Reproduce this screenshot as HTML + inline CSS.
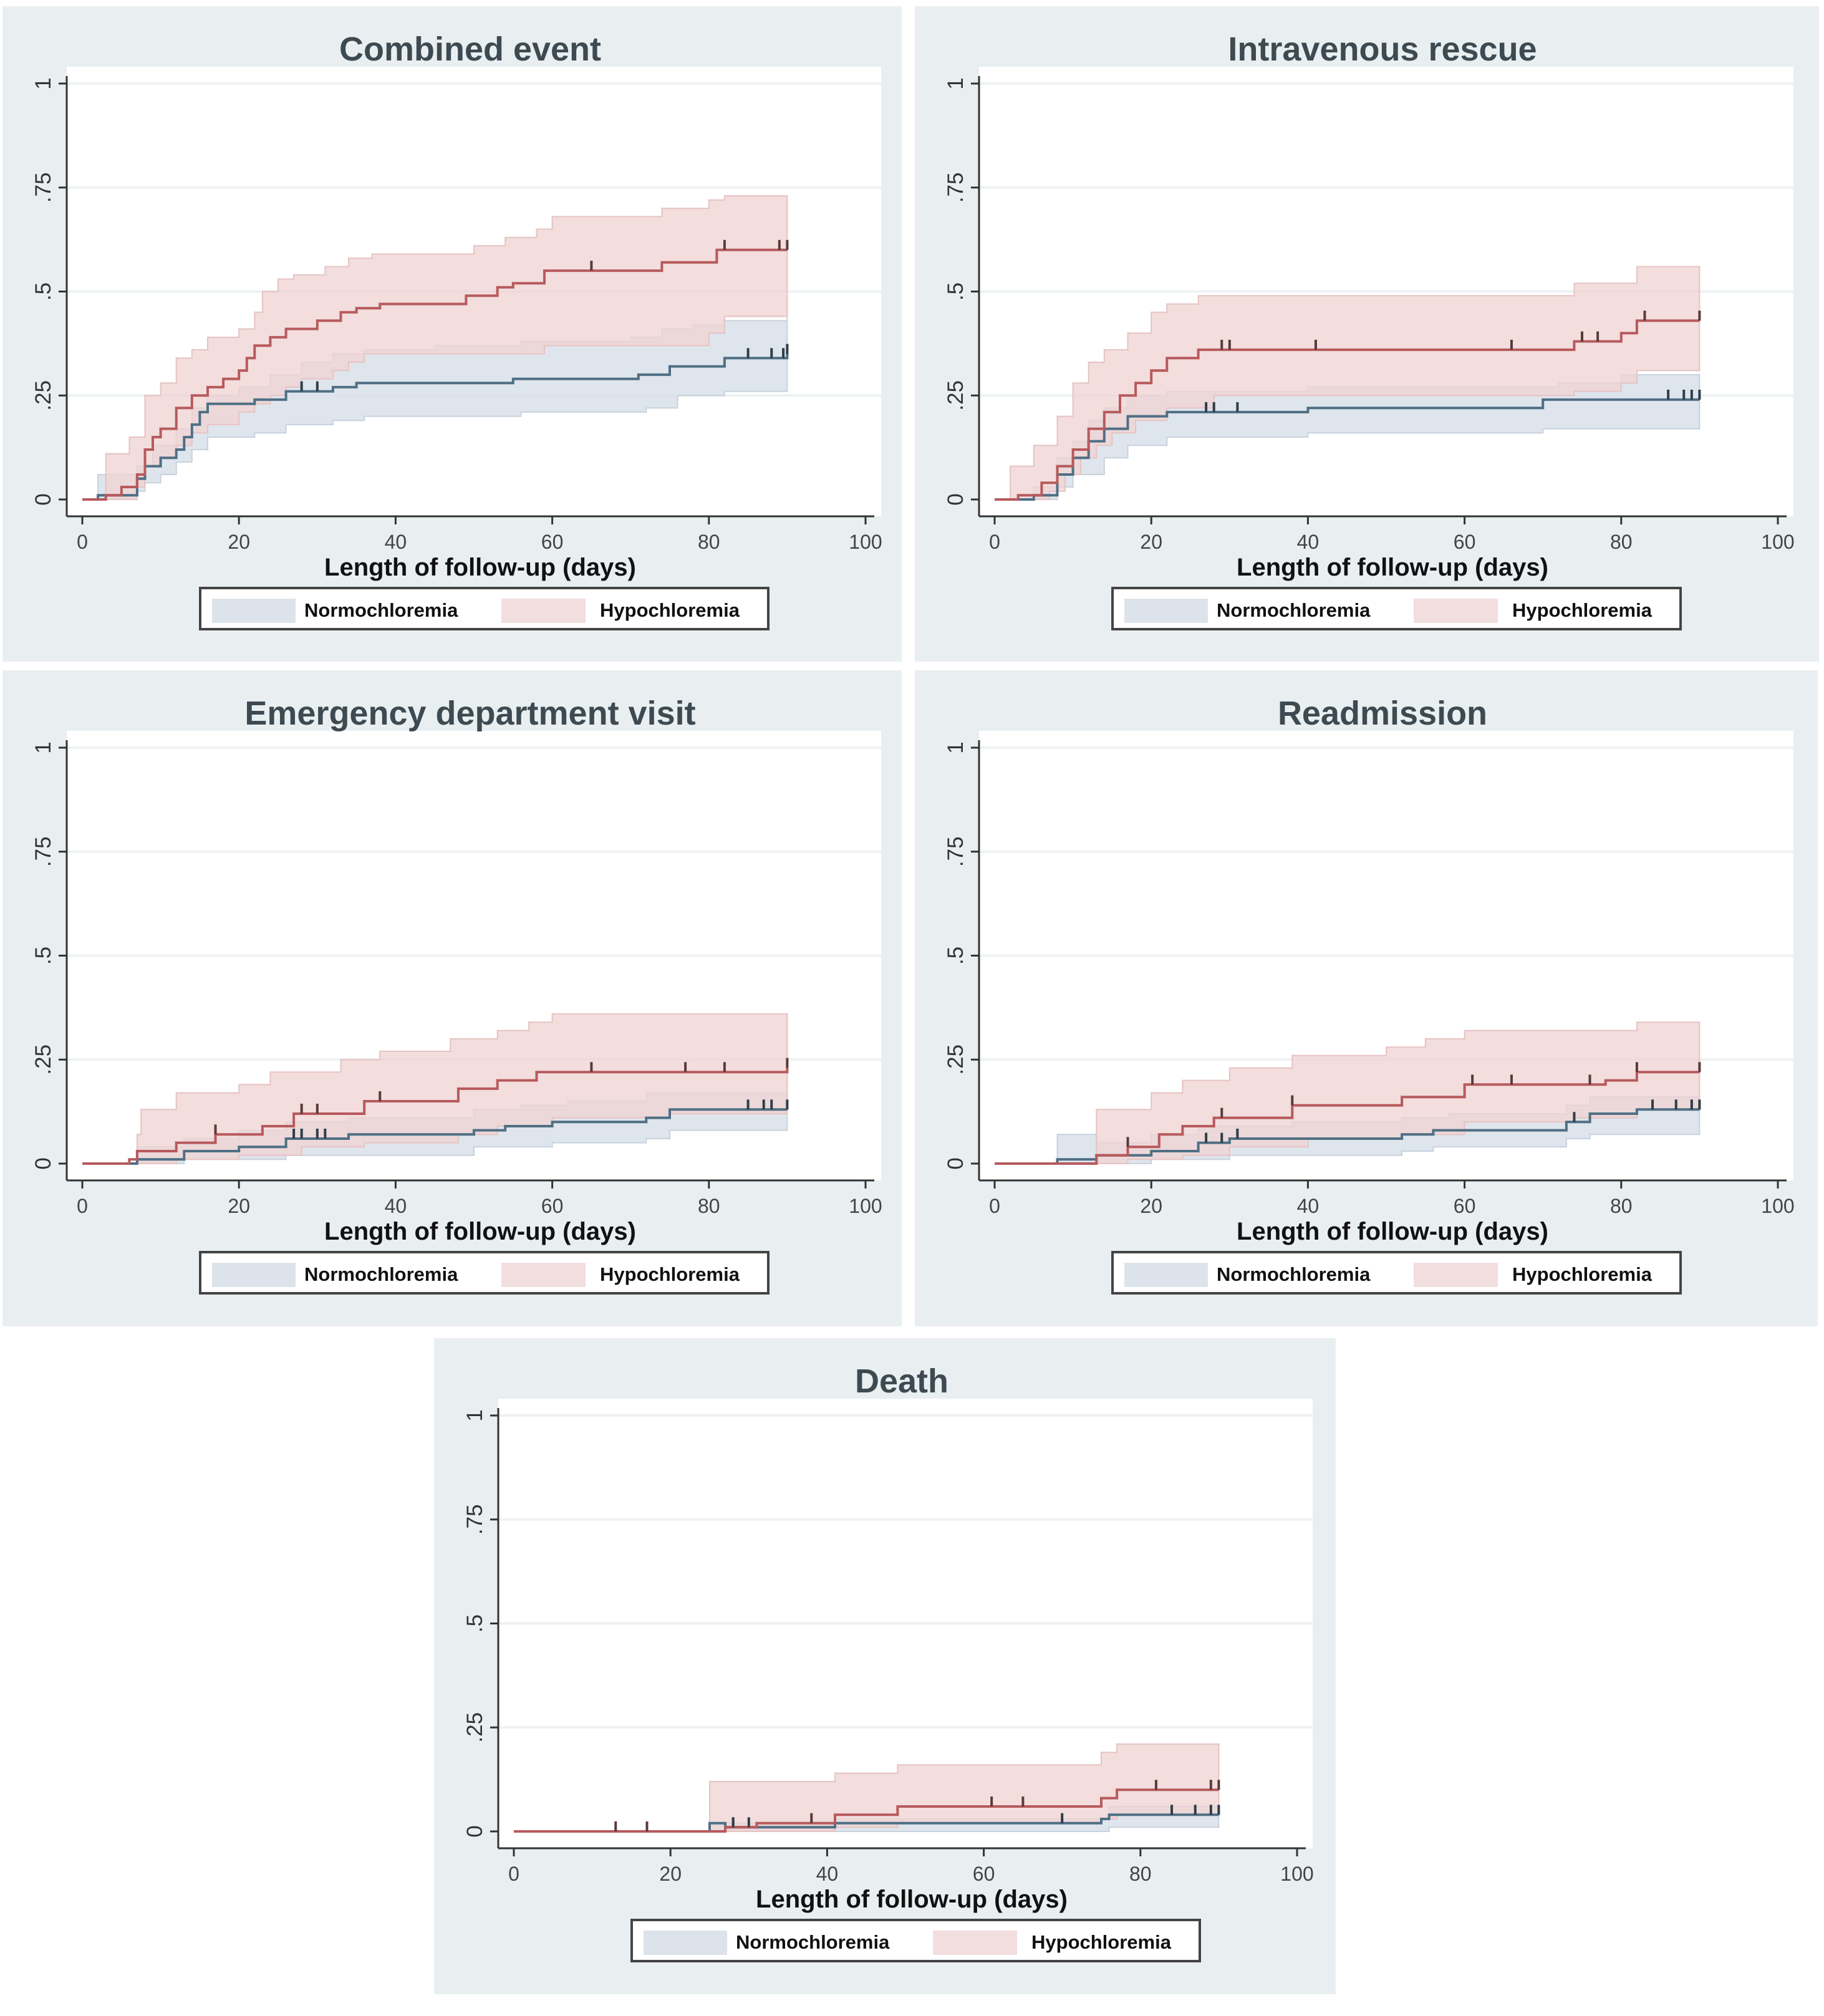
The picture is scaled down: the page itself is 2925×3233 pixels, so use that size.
<!DOCTYPE html>
<html><head><meta charset="utf-8"><style>
html,body{margin:0;padding:0;background:#fff}
svg{display:block}
text{font-family:"Liberation Sans",sans-serif}
</style></head><body>
<svg id="fig" width="2925" height="3233" viewBox="0 0 2925 3233" xmlns="http://www.w3.org/2000/svg"></svg>
<script>
// ---- data (days, cumulative incidence) ----
const panelTitles = ["Combined event","Intravenous rescue","Emergency department visit","Readmission","Death"];
// Combined event
const ceHypo   = [[0,0],[3,.01],[5,.03],[7,.06],[8,.12],[9,.15],[10,.17],[12,.22],[14,.25],[16,.27],[18,.29],[20,.31],[21,.34],[22,.37],[24,.39],[26,.41],[30,.43],[33,.45],[35,.46],[38,.47],[49,.49],[53,.51],[55,.52],[59,.55],[74,.57],[81,.6],[90,.6]];
const ceHypoU  = [[0,0],[3,.11],[6,.15],[8,.25],[10,.28],[12,.34],[14,.36],[16,.39],[20,.41],[22,.45],[23,.5],[25,.53],[27,.54],[31,.56],[34,.58],[37,.59],[50,.61],[54,.63],[58,.65],[60,.68],[74,.7],[80,.72],[82,.73],[90,.73]];
const ceHypoL  = [[0,0],[7,.03],[8,.08],[10,.1],[12,.13],[14,.16],[16,.18],[20,.21],[22,.23],[24,.25],[26,.27],[28,.29],[32,.31],[34,.33],[36,.35],[59,.37],[80,.4],[82,.44],[90,.46]];
const ceNorm   = [[0,0],[2,.01],[7,.05],[8,.08],[10,.1],[12,.12],[13,.15],[14,.18],[15,.21],[16,.23],[22,.24],[26,.26],[32,.27],[35,.28],[55,.29],[71,.3],[75,.32],[82,.34],[90,.35]];
const ceNormU  = [[0,0],[2,.06],[7,.08],[9,.13],[12,.17],[14,.22],[16,.25],[20,.27],[24,.3],[28,.33],[32,.35],[36,.36],[45,.37],[56,.38],[70,.39],[74,.41],[78,.42],[82,.43],[90,.44]];
const ceNormL  = [[0,0],[7,.02],[8,.04],[10,.06],[12,.09],[14,.12],[16,.15],[22,.16],[26,.18],[32,.19],[36,.2],[56,.21],[72,.22],[76,.25],[82,.26],[90,.26]];
const ceHypoCens = [65,82,89,90];
const ceNormCens = [28,30,85,88,89.5,90];
// Intravenous rescue
const ivHypo   = [[0,0],[3,.01],[6,.04],[8,.08],[10,.12],[12,.17],[14,.21],[16,.25],[18,.28],[20,.31],[22,.34],[26,.36],[74,.38],[80,.4],[82,.43],[90,.43]];
const ivHypoU  = [[0,0],[2,.08],[5,.13],[8,.2],[10,.28],[12,.33],[14,.36],[17,.4],[20,.45],[22,.47],[26,.49],[74,.52],[82,.56],[90,.56]];
const ivHypoL  = [[0,0],[7,.02],[9,.06],[11,.1],[13,.13],[15,.16],[18,.19],[22,.22],[28,.25],[74,.26],[80,.28],[82,.31],[90,.31]];
const ivNorm   = [[0,0],[5,.01],[8,.06],[10,.1],[12,.14],[14,.17],[17,.2],[22,.21],[40,.22],[70,.24],[90,.24]];
const ivNormU  = [[0,0],[5,.03],[8,.1],[10,.14],[12,.19],[14,.22],[17,.25],[22,.26],[40,.27],[72,.28],[80,.3],[90,.3]];
const ivNormL  = [[0,0],[8,.03],[10,.06],[14,.1],[17,.13],[22,.15],[40,.16],[70,.17],[90,.17]];
const ivHypoCens = [29,30,41,66,75,77,83,90];
const ivNormCens = [27,28,31,86,88,89,90];
// Emergency department visit
const edHypo   = [[0,0],[6,.01],[7,.03],[12,.05],[17,.07],[23,.09],[27,.12],[36,.15],[48,.18],[53,.2],[58,.22],[90,.23]];
const edHypoU  = [[0,0],[7,.07],[7.5,.13],[12,.17],[20,.19],[24,.22],[33,.25],[38,.27],[47,.3],[53,.32],[57,.34],[60,.36],[90,.36]];
const edHypoL  = [[0,0],[12,.01],[20,.02],[28,.04],[36,.05],[48,.07],[53,.09],[60,.11],[75,.12],[90,.13]];
const edNorm   = [[0,0],[7,.01],[13,.03],[20,.04],[26,.06],[34,.07],[50,.08],[54,.09],[60,.1],[72,.11],[75,.13],[90,.13]];
const edNormU  = [[0,0],[7,.04],[13,.06],[20,.08],[26,.1],[34,.11],[50,.13],[56,.14],[62,.15],[72,.17],[90,.17]];
const edNormL  = [[0,0],[13,.01],[26,.02],[50,.04],[60,.05],[72,.06],[75,.08],[90,.08]];
const edHypoCens = [17,28,30,38,65,77,82,90];
const edNormCens = [27,28,30,31,85,87,88,90];
// Readmission
const raHypo   = [[0,0],[13,.02],[17,.04],[21,.07],[24,.09],[28,.11],[38,.14],[52,.16],[60,.19],[78,.2],[82,.22],[90,.22]];
const raHypoU  = [[0,0],[13,.13],[20,.17],[24,.2],[30,.23],[38,.26],[50,.28],[55,.3],[60,.32],[82,.34],[90,.34]];
const raHypoL  = [[0,0],[17,.01],[24,.02],[30,.04],[40,.06],[52,.07],[60,.1],[74,.11],[82,.13],[90,.13]];
const raNorm   = [[0,0],[8,.01],[13,.02],[20,.03],[26,.05],[30,.06],[52,.07],[56,.08],[73,.1],[76,.12],[82,.13],[90,.13]];
const raNormU  = [[0,0],[8,.07],[13,.05],[20,.07],[26,.09],[38,.1],[52,.11],[58,.12],[73,.14],[76,.16],[90,.16]];
const raNormL  = [[0,0],[20,.01],[30,.02],[52,.03],[56,.04],[73,.06],[76,.07],[90,.07]];
const raHypoCens = [17,29,38,61,66,76,82,90];
const raNormCens = [27,29,31,74,84,87,89,90];
// Death
const dHypo    = [[0,0],[27,.01],[31,.02],[41,.04],[49,.06],[75,.08],[77,.1],[90,.1]];
const dHypoU   = [[0,0],[25,.12],[41,.14],[49,.16],[75,.19],[77,.21],[90,.21]];
const dHypoL   = [[0,0],[41,.01],[49,.02],[75,.03],[77,.04],[90,.04]];
const dNorm    = [[0,0],[25,.02],[27,.01],[41,.02],[75,.03],[76,.04],[90,.04]];
const dNormU   = [[0,0],[25,.02],[41,.03],[76,.06],[90,.06]];
const dNormL   = [[0,0],[76,.01],[90,.02]];
const dHypoCens = [13,17,28,38,61,65,82,89,90];
const dNormCens = [28,30,70,84,87,89,90];

const xTicks = [0,20,40,60,80,100];
const yTicks = [0,.25,.5,.75,1];
const yTickLabels = ["0",".25",".5",".75","1"];

const panelSeries = [
 [ceHypo,ceHypoU,ceHypoL,ceNorm,ceNormU,ceNormL,ceHypoCens,ceNormCens],
 [ivHypo,ivHypoU,ivHypoL,ivNorm,ivNormU,ivNormL,ivHypoCens,ivNormCens],
 [edHypo,edHypoU,edHypoL,edNorm,edNormU,edNormL,edHypoCens,edNormCens],
 [raHypo,raHypoU,raHypoL,raNorm,raNormU,raNormL,raHypoCens,raNormCens],
 [dHypo,dHypoU,dHypoL,dNorm,dNormU,dNormL,dHypoCens,dNormCens]
];
const panelBoxes = [[4,10,1442,1051],[1467,10,1450,1051],[4,1075,1442,1052],[1467,1075,1448,1052],[696,2146,1446,1052]];
const panelNames = ["combined-event","intravenous-rescue","ed-visit","readmission","death"];

const NS="http://www.w3.org/2000/svg";
const svg=document.getElementById('fig');
function mk(tag,attrs,parent){const e=document.createElementNS(NS,tag);for(const k in attrs)e.setAttribute(k,attrs[k]);parent.appendChild(e);return e;}
const xs=d=>128+d*12.56;
const ys=v=>791-v*667;
function valAt(s,d){let v=0;for(const p of s){if(p[0]<=d)v=p[1];}return v;}
function stepPts(s){const pts=[];for(let i=0;i<s.length;i++){const [d,v]=s[i];if(i>0)pts.push([xs(d),ys(s[i-1][1])]);pts.push([xs(d),ys(v)]);}return pts;}
function band(u,l){const a=stepPts(u);const b=stepPts(l).reverse();return "M"+a.concat(b).map(p=>p[0].toFixed(1)+","+p[1].toFixed(1)).join("L")+"Z";}
function line(s){return "M"+stepPts(s).map(p=>p[0].toFixed(1)+","+p[1].toFixed(1)).join("L");}

panelBoxes.forEach((b,i)=>{
  const g=mk('g',{transform:`translate(${b[0]},${b[1]})`},svg);
  
  
  mk('rect',{x:0,y:0,width:b[2],height:b[3],fill:'#e9eff1'},g);
  const plot=mk('rect',{x:103,y:97,width:1306,height:721,fill:'#ffffff'},g);
  
  
  const t=mk('text',{x:750,y:87,'text-anchor':'middle','font-size':54,'font-weight':'bold',fill:'#3e4a52'},g);
  t.textContent=panelTitles[i];
  
  
  yTicks.forEach((v,k)=>{
    if(v>0){const gl=mk('line',{x1:103,x2:1409,y1:ys(v),y2:ys(v),stroke:'#eef2f4','stroke-width':4},g);
      }
    const tk=mk('line',{x1:90,x2:103,y1:ys(v),y2:ys(v),stroke:'#333','stroke-width':3},g);
    
    const tl=mk('text',{x:0,y:0,transform:`translate(77,${ys(v)}) rotate(-90)`,'text-anchor':'middle','font-size':35,fill:'#333'},g);
    tl.textContent=yTickLabels[k];
    
  });
  const s=panelSeries[i];
  const nb=mk('path',{d:band(s[4],s[5]),fill:'#d9e1ea','fill-opacity':0.85,stroke:'#c8d2dd','stroke-width':2},g);
  
  const hb=mk('path',{d:band(s[1],s[2]),fill:'#f0d3d3','fill-opacity':0.78,stroke:'#e6c3c3','stroke-width':2},g);
  
  const nl=mk('path',{d:line(s[3]),fill:'none',stroke:'#4f6f84','stroke-width':4},g);
  
  const hl=mk('path',{d:line(s[0]),fill:'none',stroke:'#b75a5c','stroke-width':4},g);
  
  s[6].forEach(d=>{const c=mk('line',{x1:xs(d),x2:xs(d),y1:ys(valAt(s[0],d)),y2:ys(valAt(s[0],d))-16,stroke:'#5a3a3a','stroke-width':4},g);
    });
  s[7].forEach(d=>{const c=mk('line',{x1:xs(d),x2:xs(d),y1:ys(valAt(s[3],d)),y2:ys(valAt(s[3],d))-16,stroke:'#2e3e48','stroke-width':4},g);
    });
  const ya=mk('line',{x1:103,x2:103,y1:112,y2:818,stroke:'#333','stroke-width':3},g);
  
  const xa=mk('line',{x1:103,x2:1398,y1:818,y2:818,stroke:'#333','stroke-width':3},g);
  
  xTicks.forEach(d=>{
    const tk=mk('line',{x1:xs(d),x2:xs(d),y1:818,y2:831,stroke:'#333','stroke-width':3},g);
    
    const tl=mk('text',{x:xs(d),y:870,'text-anchor':'middle','font-size':32,fill:'#444'},g);
    tl.textContent=String(d);
    
  });
  const xl=mk('text',{x:766,y:913,'text-anchor':'middle','font-size':40,'font-weight':'bold',fill:'#111'},g);
  xl.textContent='Length of follow-up (days)';
  
  const lg=mk('g',{},g);
  
  mk('rect',{x:317,y:933,width:911,height:66,fill:'#fff',stroke:'#444','stroke-width':4},lg);
  const s1=mk('rect',{x:336,y:950,width:134,height:39,fill:'#dde3ea'},lg);
  
  const l1=mk('text',{x:484,y:979,'font-size':31,'font-weight':'bold',fill:'#111'},lg);
  l1.textContent='Normochloremia';
  
  const s2=mk('rect',{x:800,y:950,width:135,height:39,fill:'#f2dede'},lg);
  
  const l2=mk('text',{x:958,y:979,'font-size':31,'font-weight':'bold',fill:'#111'},lg);
  l2.textContent='Hypochloremia';
  
});
</script>
</body></html>
